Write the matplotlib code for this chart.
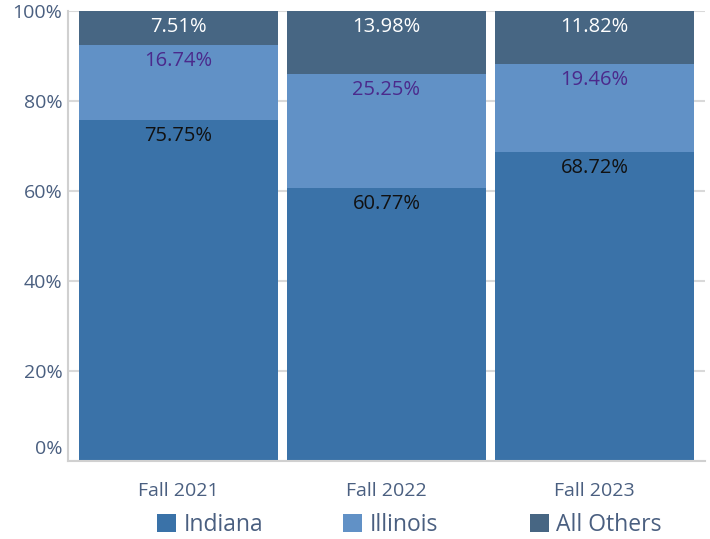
import matplotlib
matplotlib.use("Agg")
import matplotlib.pyplot as plt
from matplotlib.patches import Patch
import matplotlib.transforms as mtransforms

categories = ["Fall 2021", "Fall 2022", "Fall 2023"]
indiana = [75.75, 60.77, 68.72]
illinois = [16.74, 25.25, 19.46]
others = [7.51, 13.98, 11.82]
series_names = ["Indiana", "Illinois", "All Others"]
y_ticks = [0, 20, 40, 60, 80, 100]

colors = ["#3A72A8", "#6191C6", "#476683"]
label_colors = ["#111111", "#4B2A8C", "#FFFFFF"]
tick_color = "#4A5F80"

plt.rcParams['font.family'] = ['Open Sans', 'DejaVu Sans']

fig = plt.figure(figsize=(7.10, 5.39), dpi=100)
ax = fig.add_axes([68/710, (539-461)/539, (705-68)/710, (461-11)/539])

x = list(range(len(categories)))
width = 0.957
bottoms = [0, 0, 0]
for vals, c, lc in zip([indiana, illinois, others], colors, label_colors):
    ax.bar(x, vals, width=width, bottom=bottoms, color=c, zorder=2, linewidth=0)
    for xi, v, b in zip(x, vals, bottoms):
        ax.annotate(f"{v:.2f}%", (xi, b + v), xytext=(0, -4.5), textcoords="offset points",
                    ha="center", va="top", color=lc, fontsize=14.5, zorder=3)
    bottoms = [b + v for b, v in zip(bottoms, vals)]

ax.set_xlim(-0.531, 2.531)
ax.set_ylim(0, 100)
ax.set_yticks(y_ticks)
ax.set_yticklabels([f"{t}%" for t in y_ticks])
ax.set_xticks(x)
ax.set_xticklabels(categories)
ax.tick_params(axis='y', length=0, pad=4, labelsize=14, labelcolor=tick_color)
ax.tick_params(axis='x', length=0, pad=15, labelsize=14, labelcolor=tick_color)
lbl0 = ax.get_yticklabels()[0]
lbl0.set_transform(lbl0.get_transform() + mtransforms.ScaledTranslation(0, 10/72, fig.dpi_scale_trans))

ax.grid(axis='y', color="#D9D9D9", linewidth=1.5, zorder=0)
ax.set_axisbelow(True)
for s in ["top", "right"]:
    ax.spines[s].set_visible(False)
for s in ["left", "bottom"]:
    ax.spines[s].set_color("#D0D0D0")
    ax.spines[s].set_linewidth(1.5)

legend_x = [157, 343, 530]
for c, n, lx in zip(colors, series_names, legend_x):
    leg = fig.legend(handles=[Patch(facecolor=c, label=n)], loc="center left",
                     bbox_to_anchor=(lx/710, (539-525)/539),
                     frameon=False, fontsize=16.5, handlelength=0.85, handleheight=0.85,
                     handletextpad=0.3, labelcolor=tick_color,
                     borderpad=0, borderaxespad=0)

fig.savefig("out.png", dpi=100)
